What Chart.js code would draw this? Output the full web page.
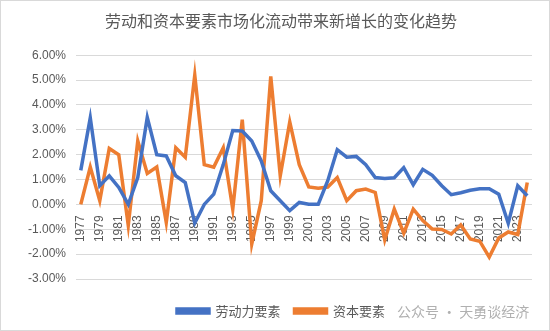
<!DOCTYPE html>
<html lang="zh">
<head>
    <meta charset="UTF-8">
    <title>劳动和资本要素市场化流动带来新增长的变化趋势</title>
    <script src="https://cdn.jsdelivr.net/npm/chart.js"></script>
    <style>
        html, body { margin: 0; padding: 0; background: #fff; }
        .wrap { position: relative; width: 548px; height: 329px; border: 1px solid #d9d9d9; }
        .mark { position: absolute; left: 396px; top: 300px; font: 14px "Noto Sans CJK SC", sans-serif; color: #b0b0b0; }
    </style>
</head>
<body>
<div class="wrap">
    <canvas id="myChart" width="548" height="329"></canvas>
    <div class="mark">公众号 · 天勇谈经济</div>
</div>
<script>
    // 年份 1977-2024
    const years = [];
    for (let y = 1977; y <= 2024; y++) years.push(String(y));

    // 劳动力要素 (%)
    const labour = [
        1.37, 3.48, 0.75, 1.15, 0.68, 0.00, 1.08, 3.50, 2.00, 1.95,
        1.15, 0.88, -0.75, 0.00, 0.41, 1.60, 2.97, 2.95, 2.55, 1.75,
        0.55, 0.15, -0.25, 0.08, 0.01, 0.01, 0.95, 2.20, 1.90, 1.93,
        1.60, 1.08, 1.04, 1.07, 1.48, 0.79, 1.41, 1.17, 0.75, 0.39,
        0.47, 0.57, 0.63, 0.63, 0.41, -0.76, 0.75, 0.35
    ];

    // 资本要素 (%)
    const capital = [
        0.00, 1.50, 0.15, 2.25, 2.00, -0.85, 2.55, 1.24, 1.50, -0.72,
        2.28, 1.90, 5.20, 1.60, 1.50, 2.28, -0.19, 3.41, -1.59, 0.15,
        5.15, 1.15, 3.32, 1.60, 0.70, 0.65, 0.70, 1.08, 0.15, 0.55,
        0.62, 0.48, -1.43, -0.19, -1.16, -0.19, -0.65, -0.99, -1.01, -1.19,
        -0.83, -1.39, -1.48, -2.12, -1.35, -1.11, -1.21, 0.88
    ];

    const grey = '#595959';
    const font = '"Liberation Sans", Arial, sans-serif';

    new Chart(document.getElementById('myChart'), {
        type: 'line',
        data: {
            labels: years,
            datasets: [{
                label: '劳动力要素',
                data: labour,
                borderColor: '#4472C4',
                backgroundColor: '#4472C4',
                borderWidth: 3.5,
                pointRadius: 0,
                tension: 0
            }, {
                label: '资本要素',
                data: capital,
                borderColor: '#ED7D31',
                backgroundColor: '#ED7D31',
                borderWidth: 3.5,
                pointRadius: 0,
                tension: 0
            }]
        },
        options: {
            responsive: false,
            animation: false,
            layout: { padding: { left: 17, right: 5, top: 0, bottom: 2.5 } },
            plugins: {
                title: {
                    display: true,
                    text: '劳动和资本要素市场化流动带来新增长的变化趋势',
                    color: grey,
                    font: { family: '"Noto Sans CJK SC", sans-serif', size: 16, weight: 'normal' },
                    padding: { top: 10, bottom: 25 }
                },
                legend: {
                    position: 'bottom',
                    labels: {
                        color: grey,
                        boxWidth: 32,
                        boxHeight: 4,
                        padding: 14,
                        font: { family: '"Noto Sans CJK SC", sans-serif', size: 13 }
                    }
                },
                tooltip: { enabled: false }
            },
            scales: {
                x: {
                    position: { y: 0 },
                    offset: true,
                    grid: { display: false },
                    border: { display: false },
                    ticks: {
                        autoSkip: false,
                        minRotation: 90,
                        maxRotation: 90,
                        color: grey,
                        font: { family: font, size: 12 },
                        callback: function (v, i) { return i % 2 === 0 ? years[i] : ''; }
                    }
                },
                // empty bottom axis, only keeps a gap above the legend
                gap: {
                    type: 'category',
                    axis: 'x',
                    position: 'bottom',
                    grid: { display: false },
                    border: { display: false },
                    ticks: { display: false },
                    afterFit: s => { s.height = 11.5; }
                },
                y: {
                    min: -3,
                    max: 6,
                    ticks: {
                        stepSize: 1,
                        padding: 10,
                        color: grey,
                        font: { family: font, size: 12 },
                        callback: v => v.toFixed(2) + '%'
                    },
                    grid: { color: '#d9d9d9', drawTicks: false },
                    border: { display: false }
                },
                // empty right axis, only keeps the right margin
                yr: {
                    type: 'linear',
                    axis: 'y',
                    position: 'right',
                    grid: { display: false },
                    border: { display: false },
                    ticks: { display: false },
                    afterFit: s => { s.width = 12; }
                }
            }
        }
    });
</script>
</body>
</html>
